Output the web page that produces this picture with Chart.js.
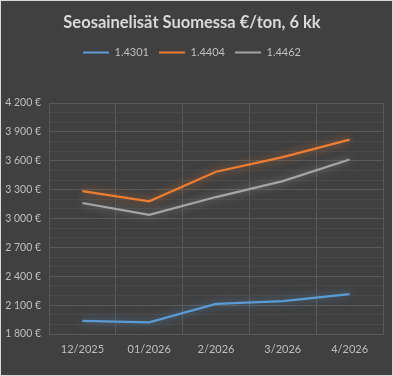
<!DOCTYPE html>
<html>
<head>
<meta charset="utf-8">
<script src="https://cdn.jsdelivr.net/npm/chart.js@4/dist/chart.umd.min.js"></script>
<style>
  html, body { margin: 0; padding: 0; background: #404040; }
  #wrap { width: 393px; height: 376px; box-sizing: border-box; border: 1px solid #d9d9d9; background: #404040; }
  canvas { display: block; }
</style>
</head>
<body>
<div id="wrap"><canvas id="c" width="391" height="374"></canvas></div>
<script>
const categories = ['12/2025', '01/2026', '2/2026', '3/2026', '4/2026'];
const series1Name = '1.4301';
const series1 = [1937, 1921, 2113, 2141, 2214];
const series2Name = '1.4404';
const series2 = [3285, 3179, 3486, 3637, 3820];
const series3Name = '1.4462';
const series3 = [3161, 3037, 3223, 3389, 3613];
const yMin = 1800, yMax = 4200, yMajorStep = 300, yMinorStep = 100;

const FONT = 'Lato, "Open Sans", sans-serif';
const TXT = '#bfbfbf';

function fmt(v) {
  return String(v).replace(/\B(?=(\d{3})+(?!\d))/g, ' ') + ' €';
}

const glow = {
  id: 'glow',
  beforeDatasetDraw(chart, args) {
    const ctx = chart.ctx;
    ctx.save();
    ctx.shadowColor = args.meta.dataset.options.borderColor + 'aa';
    ctx.shadowBlur = 9;
  },
  afterDatasetDraw(chart) {
    chart.ctx.restore();
  }
};

function ds(label, data, color) {
  return {
    label, data,
    borderColor: color, backgroundColor: color,
    borderWidth: 2.25, pointRadius: 0, pointHoverRadius: 0,
    tension: 0, fill: false
  };
}

new Chart(document.getElementById('c'), {
  type: 'line',
  data: {
    labels: categories,
    datasets: [
      ds(series1Name, series1, '#5b9bd5'),
      ds(series2Name, series2, '#ed7d31'),
      ds(series3Name, series3, '#a5a5a5')
    ]
  },
  plugins: [glow],
  options: {
    responsive: false,
    animation: false,
    events: [],
    layout: { padding: { top: 0, left: 0, right: 9, bottom: 0 } },
    plugins: {
      title: {
        display: true,
        text: 'Seosainelisät Suomessa €/ton, 6 kk',
        color: '#d9d9d9',
        font: { family: FONT, size: 16.5, weight: 'bold', lineHeight: 1.2 },
        padding: { top: 12, bottom: 4.2 }
      },
      subtitle: {
        display: true,
        text: ' ',
        position: 'top',
        weight: 500,
        color: 'rgba(0,0,0,0)',
        font: { family: FONT, size: 10, lineHeight: 1.2 },
        padding: { top: 11.5, bottom: 11.5 }
      },
      legend: {
        display: true,
        position: 'top',
        labels: {
          color: TXT,
          font: { family: FONT, size: 11 },
          boxWidth: 26,
          boxHeight: 2,
          padding: 10,
          generateLabels(chart) {
            return chart.data.datasets.map((d, i) => ({
              text: d.label,
              fillStyle: d.borderColor,
              strokeStyle: d.borderColor,
              lineWidth: 0,
              fontColor: TXT,
              hidden: false,
              datasetIndex: i
            }));
          }
        }
      },
      tooltip: { enabled: false }
    },
    scales: {
      x: {
        type: 'category',
        offset: true,
        grid: {
          display: true, offset: true, drawTicks: false,
          color: '#595959', lineWidth: 1
        },
        border: { display: true, color: '#595959' },
        ticks: {
          color: TXT, font: { family: FONT, size: 11 },
          padding: 9, maxRotation: 0, autoSkip: false
        },
        afterFit(scale) { scale.height = 41; }
      },
      y: {
        min: yMin, max: yMax,
        grid: {
          drawTicks: false,
          color: (c) => (c.tick && c.tick.value % yMajorStep === 0) ? '#595959' : '#4a4a4a',
          lineWidth: 1
        },
        border: { display: true, color: '#595959' },
        ticks: {
          stepSize: yMinorStep,
          autoSkip: false,
          color: TXT,
          font: { family: FONT, size: 10.5 },
          padding: 8,
          callback: (v) => (v % yMajorStep === 0) ? fmt(v) : ''
        },
        afterFit(scale) { scale.width = 48; }
      }
    }
  }
});
</script>
</body>
</html>
